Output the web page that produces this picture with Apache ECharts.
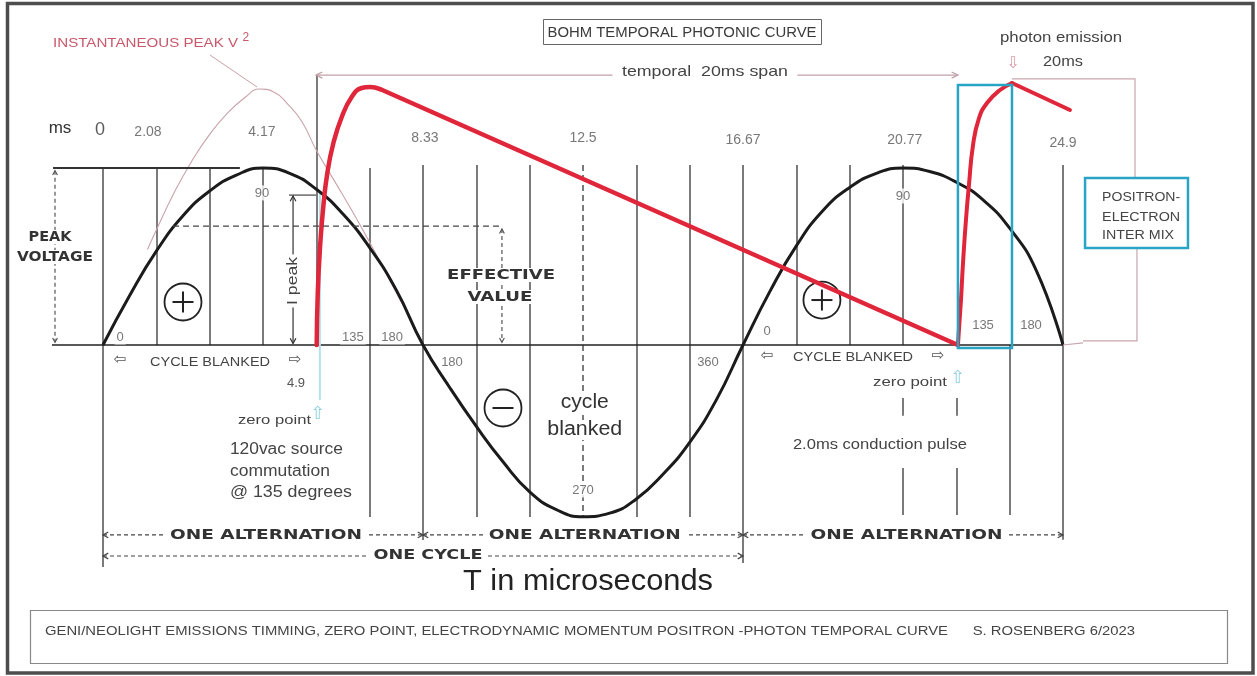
<!DOCTYPE html>
<html><head><meta charset="utf-8">
<script src="https://cdn.jsdelivr.net/npm/echarts@6/dist/echarts.min.js"></script>
<style>html,body{margin:0;padding:0;background:#fff}#c{width:1257px;height:676px}</style>
</head><body><div id="c"></div>
<script>
// ---------- data (x in electrical degrees, y in units of peak voltage) ----------
const sineDeg = [0,15,30,45,60,75,90,105,120,135,150,165,180,195,210,225,240,255,270,285,300,315,330,345,360,375,390,405,420,435,450,465,480,495,510,525,540];
const sineV   = [0,0.28,0.53,0.73,0.87,0.96,1,0.97,0.88,0.74,0.55,0.31,0,-0.24,-0.46,-0.66,-0.83,-0.93,-0.97,-0.95,-0.87,-0.73,-0.55,-0.31,0,0.3,0.56,0.76,0.89,0.97,1,0.98,0.92,0.82,0.66,0.42,0];
const peakSqDeg = [25,30,40,50,60,70,80,88,96,104,112,120,130,140,150,160,170,180];
const peakSqV   = [0.54,0.65,0.86,1.04,1.19,1.31,1.4,1.446,1.43,1.36,1.26,1.1,0.93,0.76,0.58,0.39,0.2,0.01];
const redRise1Deg = [120.2,120.8,122.1,123.9,126.2,129.6,134.3,139.9,145.5,150.2,155.8];
const redRise1V   = [0,0.294,0.554,0.78,0.972,1.141,1.288,1.401,1.452,1.458,1.446];
const redFall1Deg = [155.8,480.9];
const redFall1V   = [1.446,0];
const redRise2Deg = [480.9,482.6,483.75,485.4,487.1,489.4,492.75,497.25,504.6,511.3];
const redRise2V   = [0,0.254,0.463,0.706,0.904,1.13,1.282,1.367,1.441,1.48];
const redFall2Deg = [511.3,543.9];
const redFall2V   = [1.48,1.328];
const gridDeg    = [0,30,60,90,120,150,180,210,240,270,300,330,360,390,420,450,480,510,540];
const gridTop    = [1,1,1,1,1.525,1,1.017,1.017,1.017,1.017,1.017,1.017,1.017,1.017,1.017,1.017,0,0,1.017];
const gridBottom = [-1.254,0,0,0,0,-0.972,-1.102,-0.972,-0.972,-0.972,-0.972,-0.972,-1.232,0,0,0,0,-0.96,-1.1];
const extraDeg    = [450,450,480,480];
const extraTop    = [-0.3,-0.695,-0.3,-0.695];
const extraBottom = [-0.4,-0.96,-0.4,-0.96];
const msLabels   = ['0','2.08','4.17','8.33','12.5','16.67','20.77','24.9'];
const msLabelDeg = [-1.7,25.3,89.4,181.1,270,360,451,540];
const msLabelV   = [1.215,1.203,1.203,1.169,1.169,1.158,1.158,1.141];
const degLabels   = ['0','90','135','180','180','270','360','0','90','135','180'];
const degLabelDeg = [9.6,89.4,140.6,162.6,196.3,270,340.3,373.5,450,495,522];
const degLabelV   = [0.045,0.859,0.045,0.045,-0.096,-0.819,-0.096,0.079,0.842,0.113,0.113];

const zip = (a,b) => a.map((x,i)=>[x,b[i]]);
const FONT = '"Liberation Sans", Arial, sans-serif';
const BOLD = '"DejaVu Sans", Verdana, sans-serif';
const SYM  = '"DejaVu Sans", sans-serif';
const RED = '#e0263a';

const gridData = [];
gridDeg.forEach((d,i)=>{ if (gridTop[i]!==gridBottom[i]) gridData.push({coords:[[d,gridTop[i]],[d,gridBottom[i]]], lineStyle: i===9?{type:[6,4]}:{}}); });
extraDeg.forEach((d,i)=>gridData.push({coords:[[d,extraTop[i]],[d,extraBottom[i]]]}));

const chart = echarts.init(document.getElementById('c'), null, {renderer:'canvas', width:1257, height:676});
const option = {
  animation:false,
  backgroundColor:'#fff',
  grid:{left:103, top:8.7, width:995.556, height:654.9, show:false, containLabel:false, outerBoundsMode:'none'},
  xAxis:{type:'value', min:0, max:560, show:false},
  yAxis:{type:'value', min:-1.8, max:1.9, show:false},
  series:[
    {type:'lines', coordinateSystem:'cartesian2d', z:1, silent:true, data:gridData,
     lineStyle:{color:'#5a5a5a', width:1.6, opacity:1}},
    {type:'line', z:2, data:zip(peakSqDeg,peakSqV), smooth:0.5, symbol:'none', silent:true,
     lineStyle:{color:'#c9a2aa', width:1.1}},
    {type:'line', z:5, data:zip(sineDeg,sineV), smooth:0.5, symbol:'none', silent:true,
     lineStyle:{color:'#1b1b1b', width:3}},
    {type:'line', z:6, data:zip(redRise1Deg,redRise1V), smooth:0.5, symbol:'none', silent:true,
     lineStyle:{color:RED, width:4.5, cap:'round', join:'round'}},
    {type:'line', z:6, data:zip(redFall1Deg,redFall1V), symbol:'none', silent:true,
     lineStyle:{color:RED, width:4.5, cap:'round'}},
    {type:'line', z:6, data:zip(redRise2Deg,redRise2V), smooth:0.5, symbol:'none', silent:true,
     lineStyle:{color:RED, width:4, cap:'round', join:'round'}},
    {type:'line', z:6, data:zip(redFall2Deg,redFall2V), symbol:'none', silent:true,
     lineStyle:{color:RED, width:4, cap:'round'}},
    {type:'scatter', z:8, clip:false, silent:true, symbolSize:0, itemStyle:{color:'rgba(0,0,0,0)'},
     data: msLabels.map((t,i)=>({name:t, value:[msLabelDeg[i], msLabelV[i]],
       label:{fontSize: i===0?18:14, color: i===0?'#333':'#555'}})),
     label:{show:true, position:'inside', formatter:'{b}', fontFamily:FONT, fontSize:14, color:'#555'}},
    {type:'scatter', z:8, clip:false, silent:true, symbolSize:0, itemStyle:{color:'rgba(0,0,0,0)'},
     data: degLabels.map((t,i)=>({name:t, value:[degLabelDeg[i], degLabelV[i]]})),
     label:{show:true, position:'inside', formatter:'{b}', fontFamily:FONT, fontSize:13, color:'#555',
       backgroundColor:'#fff', padding:[1,2]}}
  ]
};
chart.setOption(option);

// ---------- annotations ----------
const g = [];
const P = (d,v) => chart.convertToPixel({gridIndex:0}, [d,v]);
const mctx = document.createElement('canvas').getContext('2d');
function textAt(s,x,y,o){
  o=o||{};
  const size=o.size||13;
  const font=(o.weight||'normal')+' '+size+'px '+(o.family||FONT);
  let sx=1;
  if(o.w){ mctx.font=font; const m=mctx.measureText(s).width; if(m>0) sx=o.w/m; }
  const el={type:'text', x:x, y:y, scaleX:sx, rotation:o.rot||0, z:o.z||30, silent:true,
    style:{text:s, x:0, y:0, font:font, fill:o.color||'#444', align:o.align||'center', verticalAlign:'middle'}};
  if(o.bg){ el.style.backgroundColor=o.bg; el.style.padding=o.pad||[0,2]; }
  return el;
}
function T(s,d,v,o){ const p=P(d,v); g.push(textAt(s,p[0],p[1],o)); }
function L(d1,v1,d2,v2,o){ o=o||{}; const a=P(d1,v1), b=P(d2,v2);
  g.push({type:'line', silent:true, z:o.z||15, shape:{x1:a[0],y1:a[1],x2:b[0],y2:b[1]},
    style:{stroke:o.color||'#444', lineWidth:o.lw||1.3, lineDash:o.dash||null}}); return [a,b]; }
function head(tip,from,o){ o=o||{}; const ang=Math.atan2(tip[1]-from[1], tip[0]-from[0]);
  const len=o.len||6, sp=o.sp||0.5;
  const p1=[tip[0]-len*Math.cos(ang-sp), tip[1]-len*Math.sin(ang-sp)];
  const p2=[tip[0]-len*Math.cos(ang+sp), tip[1]-len*Math.sin(ang+sp)];
  g.push(o.fill ? {type:'polygon', silent:true, z:16, shape:{points:[p1,tip,p2]}, style:{fill:o.color||'#444', stroke:o.color||'#444', lineWidth:1}}
               : {type:'polyline', silent:true, z:16, shape:{points:[p1,tip,p2]}, style:{stroke:o.color||'#444', lineWidth:o.lw||1.3, fill:null}});
}
function A(d1,v1,d2,v2,o){ o=o||{}; const ab=L(d1,v1,d2,v2,o); const hd=Object.assign({},o,{dash:null}); head(ab[0],ab[1],hd); head(ab[1],ab[0],hd); }
function R(d1,v1,d2,v2,o){ const a=P(d1,v1), b=P(d2,v2);
  g.push({type:'rect', silent:true, z:o.z||14, shape:{x:Math.min(a[0],b[0]), y:Math.min(a[1],b[1]), width:Math.abs(b[0]-a[0]), height:Math.abs(b[1]-a[1])},
    style:{fill:o.fill||null, stroke:o.color, lineWidth:o.lw||1}}); }
function C(d,v,plus){ const p=P(d,v), r=18.5, a=10.5;
  g.push({type:'circle', silent:true, z:4, shape:{cx:p[0],cy:p[1],r:r}, style:{fill:null, stroke:'#222', lineWidth:1.8}});
  g.push({type:'line', silent:true, z:4, shape:{x1:p[0]-a,y1:p[1],x2:p[0]+a,y2:p[1]}, style:{stroke:'#222', lineWidth:2}});
  if(plus) g.push({type:'line', silent:true, z:4, shape:{x1:p[0],y1:p[1]-a,x2:p[0],y2:p[1]+a}, style:{stroke:'#222', lineWidth:2}});
}

// frame, title box, footer box (page layout)
g.push({type:'rect', silent:true, z:40, shape:{x:7.5,y:3.5,width:1245.5,height:669.5}, style:{fill:null, stroke:'#4d4d4d', lineWidth:3.5}});
g.push({type:'rect', silent:true, z:20, shape:{x:543.5,y:19.5,width:278,height:25}, style:{fill:'#fff', stroke:'#666', lineWidth:1}});
g.push(textAt('BOHM TEMPORAL PHOTONIC CURVE', 682, 32.5, {size:15, w:269, color:'#3a3a3a'}));
g.push({type:'rect', silent:true, z:20, shape:{x:30.5,y:610.5,width:1197,height:53}, style:{fill:'#fff', stroke:'#888', lineWidth:1.2}});
g.push(textAt('GENI/NEOLIGHT EMISSIONS TIMMING, ZERO POINT, ELECTRODYNAMIC MOMENTUM POSITRON -PHOTON TEMPORAL CURVE      S. ROSENBERG 6/2023', 45, 632, {size:12.5, w:1090, align:'left', color:'#444'}));

// baseline
L(-28.7,0,540,0,{color:'#222', lw:1.6, z:3});
L(540,0,551.25,0.012,{color:'#c9a6ad', lw:1.2});

// peak voltage
L(-28.1,1.0,77,1.0,{color:'#333', lw:2, z:3});
A(-27,0.985,-27,0.015,{dash:[4,3], color:'#555', lw:1.2, len:5});
T('PEAK',-29.8,0.61,{size:14, weight:'bold', family:BOLD, w:43, bg:'#fff', color:'#333'});
T('VOLTAGE',-27,0.497,{size:14, weight:'bold', family:BOLD, w:76, bg:'#fff', color:'#333'});

// effective value
L(39.4,0.672,224.4,0.672,{dash:[6,4], color:'#444', lw:1.3});
A(224.4,0.655,224.4,0.015,{dash:[4,3], color:'#555', lw:1.2, len:5});
T('EFFECTIVE',223.9,0.395,{size:14, weight:'bold', family:BOLD, w:108, bg:'#fff', color:'#333'});
T('VALUE',223.3,0.271,{size:14, weight:'bold', family:BOLD, w:65, bg:'#fff', color:'#333'});

// I peak
A(106.9,0.842,106.9,0.008,{color:'#333', lw:1.2, len:6});
L(104.6,0.847,119.8,0.847,{color:'#333', lw:1.1});
L(122,0.86,122,-0.31,{color:'#b3e1eb', lw:2, z:3});
T('I peak',106.9,0.362,{size:14, rot:Math.PI/2, w:48, bg:'#fff', color:'#444'});

// temporal 20 ms span
A(119.8,1.525,480.9,1.525,{color:'#c2a1a8', lw:1.3, len:7, sp:0.45});
T('temporal  20ms span',338.6,1.542,{size:15, w:166, bg:'#fff', pad:[0,8], color:'#444'});

// photon emission box + links
R(480.9,1.469,511.3,-0.017,{color:'#28a5c5', lw:2.5, z:14});
g.push({type:'polyline', silent:true, z:13, shape:{points:[P(511.3,1.503),P(580.5,1.503),P(580.5,0.944)]}, style:{stroke:'#c9a6ad', lineWidth:1.2, fill:null}});
g.push({type:'polyline', silent:true, z:13, shape:{points:[P(581.6,0.548),P(581.6,0.023),P(551.25,0.023)]}, style:{stroke:'#c9a6ad', lineWidth:1.2, fill:null}});
R(552.4,0.944,610.3,0.548,{color:'#28a5c5', lw:2.5, fill:'#fff', z:14});
T('POSITRON-',562,0.831,{size:13, w:78, align:'left'});
T('ELECTRON',562,0.723,{size:13, w:78, align:'left'});
T('INTER MIX',562,0.621,{size:13, w:72, align:'left'});
T('photon emission',538.9,1.734,{size:15, w:122});
T('20ms',540,1.599,{size:14, w:40});
T('\u21E9',511.9,1.588,{size:16, family:SYM, color:'#d99aa5'});

// INSTANTANEOUS PEAK V2
T('INSTANTANEOUS PEAK V',-28.1,1.706,{size:13.5, w:185, align:'left', color:'#c8586a'});
T('2',80.4,1.734,{size:12, color:'#c8586a'});
L(60.2,1.638,86.6,1.458,{color:'#c9a0a8', lw:1});
T('ms',-24.2,1.226,{size:17, color:'#333'});

// polarity circles
C(45,0.243,true); C(404.4,0.254,true); C(225,-0.356,false);

// cycle blanked arrows
T('\u21E6',9.6,-0.085,{size:15, family:SYM, color:'#555'});
T('CYCLE BLANKED',60.2,-0.096,{size:13.5, w:120});
T('\u21E8',108,-0.085,{size:15, family:SYM, color:'#555'});
T('\u21E6',373.5,-0.062,{size:15, family:SYM, color:'#555'});
T('CYCLE BLANKED',421.9,-0.068,{size:13.5, w:120});
T('\u21E8',469.7,-0.062,{size:15, family:SYM, color:'#555'});
T('4.9',108.6,-0.215,{size:13, color:'#555'});

// zero points and notes
T('zero point',117,-0.424,{size:13, w:73, align:'right'});
T('\u21E7',120.9,-0.39,{size:18, family:SYM, color:'#8fd0e0'});
T('120vac source',71.4,-0.593,{size:16, w:113, align:'left'});
T('commutation',71.4,-0.718,{size:16, w:100, align:'left'});
T('@ 135 degrees',71.4,-0.836,{size:16, w:122, align:'left'});
T('zero point',474.75,-0.209,{size:13, w:74, align:'right'});
T('\u21E7',480.9,-0.186,{size:18, family:SYM, color:'#8fd0e0'});
T('2.0ms conduction pulse',437,-0.565,{size:15, w:174, bg:'#fff'});
T('cycle',271,-0.322,{size:20, w:48, bg:'#fff', color:'#333'});
T('blanked',271,-0.48,{size:20, w:75, bg:'#fff', color:'#333'});

// alternation / cycle spans
[[0,180,91.7],[180,360,271],[360,540,452]].forEach(s=>{
  A(s[0],-1.073,s[1],-1.073,{dash:[4,3], color:'#444', lw:1.2, len:6});
  T('ONE ALTERNATION',s[2],-1.073,{size:14, weight:'bold', family:BOLD, w:192, bg:'#fff', pad:[0,4], color:'#333'});
});
A(0,-1.192,360,-1.192,{dash:[4,3], color:'#444', lw:1.2, len:6});
T('ONE CYCLE',182.8,-1.186,{size:14, weight:'bold', family:BOLD, w:109, bg:'#fff', pad:[0,4], color:'#333'});
T('T in microseconds',272.8,-1.339,{size:30, w:250, color:'#222'});

chart.setOption({graphic:{elements:g}});
</script></body></html>
